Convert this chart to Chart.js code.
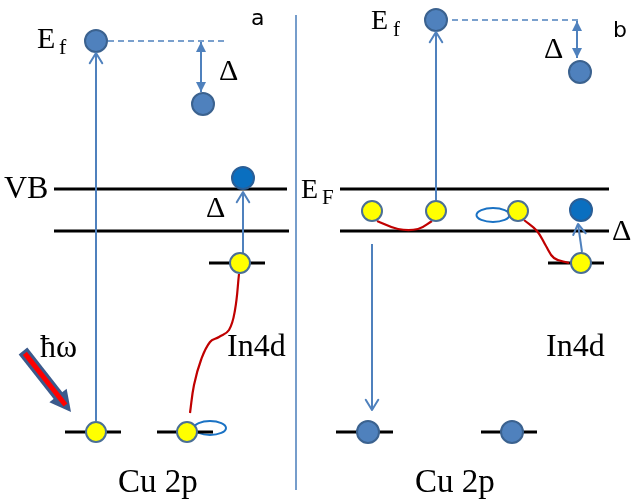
<!DOCTYPE html>
<html><head><meta charset="utf-8">
<script src="https://cdn.jsdelivr.net/npm/chart.js@4"></script>
<style>html,body{margin:0;padding:0;background:#fff}#wrap{width:632px;height:504px;position:relative}</style>
</head><body><div id="wrap"><canvas id="c"></canvas></div>
<script>
// ---- diagram data (coordinates in axis units: x 0..632, y 0..504 top-down) ----
const levelLines = [[54,287,189],[54,289,231],[340,609,189],[340,609,231],[209,265,263],[548,604,263],[65,121,432],[157,213,432],[336,393,432],[481,537,432]];
const dividerLine = [[296,15],[296,490]];
const dashedLines = [[[108,41],[228,41]],[[452,20],[578,20]]];
const openArrows = [[[96,421],[96,53]],[[243,262],[243,192]],[[436,200],[436,32]],[[372,244],[372,410]],[[582,252],[578,224]]];
const doubleArrows = [[[201,42],[201,92]],[[577,21],[577,58]]];
const photonArrow = [[23,351],[71,412]];
const blueElectrons = [[96,41],[203,104],[436,20],[580,72],[368,432],[512,432]];
const darkElectrons = [[243,178],[581,210]];
const yellowElectrons = [[240,263],[96,432],[187,432],[372,211],[436,211],[518,211],[581,263]];
const redCurves = [
  [[239,274],[235,310],[229,330],[219,337],[210,342],[201,360],[194,385],[190,413]],
  [[377,221],[398,229],[418,229],[432,221]],
  [[524,220],[537,231],[546,246],[554,258],[569,263]]
];
const loops = [[210,428,16,7],[493,215,16.5,7]];
const labelTexts = ['E','f','E','f','VB','E','F','Δ','Δ','Δ','Δ','In4d','In4d','ħω','Cu 2p','Cu 2p','a','b'];
const labelPos = [[37,48],[59,54],[371,29],[393,36],[4,198],[301,198],[322,204],[219,80],[206,217],[544,58],[612,240],[227,356],[546,356],[40,357],[118,492],[415,492],[251,25],[613,37]];
const labelSizes = [30,22,28,21,32,28,21,30,30,30,30,32,32,32,33,33,22,22];

const BLUE = '#4f81bd';
const seg = (pts) => pts.map(p => ({x:p[0], y:p[1]}));
const datasets = [];
datasets.push({data: seg(blueElectrons), pointRadius: 11, pointBackgroundColor: BLUE, pointBorderColor: '#3b628f', pointBorderWidth: 2, showLine: false, order: 1});
datasets.push({data: seg(darkElectrons), pointRadius: 11, pointBackgroundColor: '#0a6fc0', pointBorderColor: '#2a5e96', pointBorderWidth: 2, showLine: false, order: 1});
datasets.push({data: seg(yellowElectrons), pointRadius: 10, pointBackgroundColor: '#ffff00', pointBorderColor: '#4a6f96', pointBorderWidth: 2, showLine: false, order: 1});
redCurves.forEach(c => datasets.push({data: seg(c), showLine: true, tension: 0.4, borderColor: '#c00000', borderWidth: 2.2, pointRadius: 0, order: 3}));
openArrows.forEach(a => datasets.push({data: seg(a), showLine: true, borderColor: BLUE, borderWidth: 2, pointRadius: 0, order: 4}));
doubleArrows.forEach(a => datasets.push({data: seg(a), showLine: true, borderColor: BLUE, borderWidth: 2, pointRadius: 0, order: 4}));
dashedLines.forEach(a => datasets.push({data: seg(a), showLine: true, borderColor: BLUE, borderWidth: 1.5, borderDash: [6,4], pointRadius: 0, order: 4}));
datasets.push({data: seg(dividerLine), showLine: true, borderColor: '#4a7ebb', borderWidth: 1.5, pointRadius: 0, order: 6});
levelLines.forEach(l => datasets.push({data: [{x:l[0],y:l[2]},{x:l[1],y:l[2]}], showLine: true, borderColor: '#000', borderWidth: 3, pointRadius: 0, order: 5}));
datasets.forEach(d => { d.clip = false; });

function P(chart, p){ return [chart.scales.x.getPixelForValue(p[0]), chart.scales.y.getPixelForValue(p[1])]; }

const extras = {
  id: 'extras',
  beforeDatasetsDraw(chart){
    const ctx = chart.ctx;
    ctx.save();
    ctx.strokeStyle = '#1a72c4'; ctx.lineWidth = 2;
    loops.forEach(l => {
      const c = P(chart, [l[0], l[1]]);
      ctx.beginPath(); ctx.ellipse(c[0], c[1], l[2], l[3], 0, 0, Math.PI*2); ctx.stroke();
    });
    ctx.restore();
  },
  afterDatasetsDraw(chart){
    const ctx = chart.ctx;
    ctx.save();
    ctx.strokeStyle = BLUE; ctx.fillStyle = BLUE; ctx.lineWidth = 2; ctx.lineCap = 'round'; ctx.lineJoin = 'round';
    openArrows.forEach(a => {
      const f = P(chart, a[0]), t = P(chart, a[1]);
      const ang = Math.atan2(t[1]-f[1], t[0]-f[0]), L = 12, s = 0.55;
      ctx.beginPath();
      ctx.moveTo(t[0]-L*Math.cos(ang-s), t[1]-L*Math.sin(ang-s));
      ctx.lineTo(t[0], t[1]);
      ctx.lineTo(t[0]-L*Math.cos(ang+s), t[1]-L*Math.sin(ang+s));
      ctx.stroke();
    });
    const tri = (f, t, L, W) => {
      const ang = Math.atan2(t[1]-f[1], t[0]-f[0]);
      const bx = t[0]-L*Math.cos(ang), by = t[1]-L*Math.sin(ang);
      ctx.beginPath();
      ctx.moveTo(t[0], t[1]);
      ctx.lineTo(bx + W*Math.sin(ang), by - W*Math.cos(ang));
      ctx.lineTo(bx - W*Math.sin(ang), by + W*Math.cos(ang));
      ctx.closePath(); ctx.fill();
    };
    doubleArrows.forEach(a => {
      const f = P(chart, a[0]), t = P(chart, a[1]);
      tri(f, t, 10, 5); tri(t, f, 10, 5);
    });
    // photon arrow
    const f = P(chart, photonArrow[0]), t = P(chart, photonArrow[1]);
    const ang = Math.atan2(t[1]-f[1], t[0]-f[0]);
    const hb = [t[0]-20*Math.cos(ang), t[1]-20*Math.sin(ang)];
    ctx.strokeStyle = '#3b5a8c'; ctx.fillStyle = '#3b5a8c'; ctx.lineCap = 'butt';
    ctx.lineWidth = 11;
    ctx.beginPath(); ctx.moveTo(f[0], f[1]); ctx.lineTo(hb[0], hb[1]); ctx.stroke();
    tri(f, t, 21, 11);
    ctx.strokeStyle = '#ff0000'; ctx.lineWidth = 5;
    ctx.beginPath(); ctx.moveTo(f[0]+3*Math.cos(ang), f[1]+3*Math.sin(ang)); ctx.lineTo(t[0]-9*Math.cos(ang), t[1]-9*Math.sin(ang)); ctx.stroke();
    ctx.restore();
  },
  afterDraw(chart){
    const ctx = chart.ctx;
    ctx.save();
    ctx.fillStyle = '#000'; ctx.textAlign = 'left'; ctx.textBaseline = 'alphabetic';
    labelTexts.forEach((txt, i) => {
      const p = P(chart, labelPos[i]);
      const fam = (txt === 'a' || txt === 'b') ? '"DejaVu Sans", sans-serif' : '"Liberation Serif", "Times New Roman", serif';
      ctx.font = labelSizes[i] + 'px ' + fam;
      ctx.fillText(txt, p[0], p[1]);
    });
    ctx.restore();
  }
};

new Chart(document.getElementById('c'), {
  type: 'scatter',
  data: { datasets },
  options: {
    responsive: true, maintainAspectRatio: false, animation: false,
    layout: { padding: 0, autoPadding: false },
    plugins: { legend: { display: false }, tooltip: { enabled: false } },
    events: [],
    scales: {
      x: { type: 'linear', min: 0, max: 632, display: false },
      y: { type: 'linear', min: 0, max: 504, reverse: true, display: false }
    }
  },
  plugins: [extras]
});
</script></body></html>
